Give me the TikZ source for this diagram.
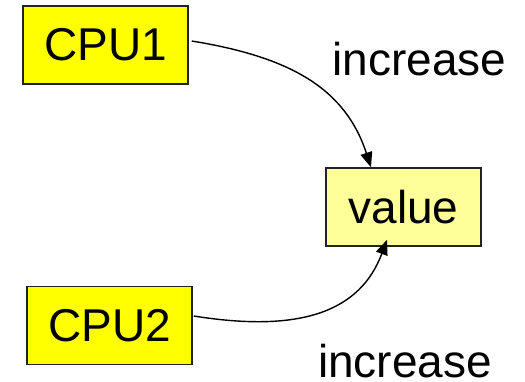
\documentclass[tikz,border=0pt]{standalone}
\usepackage{fontspec}
\setmainfont{Liberation Sans}
\usetikzlibrary{arrows.meta}
\definecolor{cpufill}{HTML}{FFFF00}
\definecolor{valfill}{HTML}{FFFF99}
\definecolor{edge}{HTML}{222222}
\begin{document}
\begin{tikzpicture}[x=1pt,y=-1pt,
  box/.style={draw=edge,line width=1.5pt,inner sep=0pt,font=\fontsize{46}{46}\selectfont},
  cpubox/.style={box,fill=cpufill,minimum width=165pt,minimum height=78pt},
  valbox/.style={box,fill=valfill,minimum width=155pt,minimum height=78pt},
  lbl/.style={font=\fontsize{46}{46}\selectfont,anchor=base,inner sep=0pt},
  link/.style={line width=1.4pt,-{Triangle[length=15pt,width=12pt]}}]
\useasboundingbox (0,0) rectangle (525,381);
\node[cpubox] (cpu1) at (105.5,45) {CPU1};
\node[cpubox] (cpu2) at (109.5,325.5) {CPU2};
\node[valbox] (val) at (403.5,207) {value};
\node[lbl] (inc1) at (419.5,75) {increase};
\node[lbl] (inc2) at (405,377) {increase};
\coordinate (s1) at ([xshift=3pt,yshift=4pt]cpu1.east);
\coordinate (t1) at ([xshift=-32.5pt]val.north);
\coordinate (s2) at ([xshift=1pt,yshift=9.5pt]cpu2.east);
\coordinate (t2) at ([xshift=-16.5pt,yshift=7pt]val.south);
\draw[link] (s1) .. controls (290,57) and (345,88) .. (t1);
\draw[link] (s2) .. controls (300,333) and (360,312) .. (t2);
\end{tikzpicture}
\end{document}
